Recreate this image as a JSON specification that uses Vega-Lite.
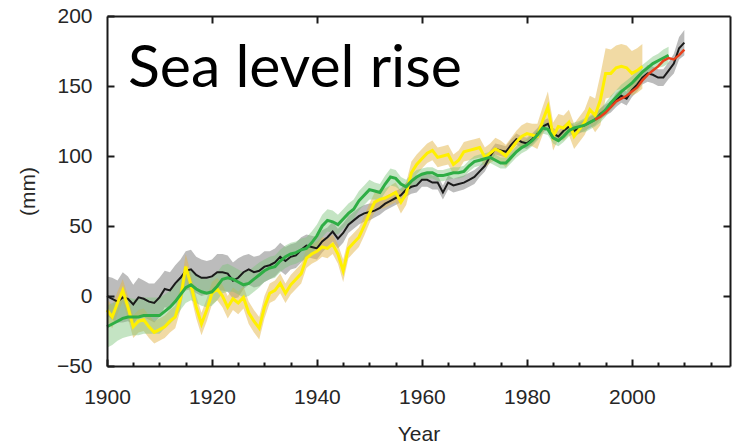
{
"$schema": "https://vega.github.io/schema/vega-lite/v6.json",
"width": 623, "height": 350,
"autosize": "none",
"padding": {"left": 107, "top": 16, "right": 5, "bottom": 78},
"background": "white",
"config": {"view": {"stroke": null}, "font": "Liberation Sans"},
"datasets": {
"black": [
{"year":1900,"v":0,"w":14},{"year":1901,"v":-2,"w":15},{"year":1902,"v":-4,"w":15},{"year":1903,"v":-1,"w":18},{"year":1904,"v":-2,"w":16},{"year":1905,"v":-6,"w":14},{"year":1906,"v":-1,"w":14},{"year":1907,"v":-2,"w":13},{"year":1908,"v":-4,"w":13},{"year":1909,"v":-5,"w":14},
{"year":1910,"v":-1,"w":14},{"year":1911,"v":5,"w":13},{"year":1912,"v":4,"w":13},{"year":1913,"v":9,"w":13},{"year":1914,"v":13,"w":13},{"year":1915,"v":18,"w":14},{"year":1916,"v":19,"w":14},{"year":1917,"v":15,"w":13},{"year":1918,"v":13,"w":13},{"year":1919,"v":13,"w":12},
{"year":1920,"v":14,"w":12},{"year":1921,"v":17,"w":13},{"year":1922,"v":17,"w":13},{"year":1923,"v":16,"w":13},{"year":1924,"v":11,"w":13},{"year":1925,"v":13,"w":14},{"year":1926,"v":17,"w":12},{"year":1927,"v":19,"w":11},{"year":1928,"v":17,"w":11},{"year":1929,"v":18,"w":11},
{"year":1930,"v":21,"w":11},{"year":1931,"v":22,"w":10},{"year":1932,"v":24,"w":10},{"year":1933,"v":28,"w":10},{"year":1934,"v":25,"w":10},{"year":1935,"v":28,"w":9},{"year":1936,"v":29,"w":9},{"year":1937,"v":33,"w":9},{"year":1938,"v":36,"w":8},{"year":1939,"v":35,"w":8},
{"year":1940,"v":34,"w":8},{"year":1941,"v":39,"w":8},{"year":1942,"v":42,"w":7},{"year":1943,"v":46,"w":7},{"year":1944,"v":41,"w":7},{"year":1945,"v":45,"w":7},{"year":1946,"v":51,"w":6},{"year":1947,"v":54,"w":6},{"year":1948,"v":57,"w":6},{"year":1949,"v":59,"w":6},
{"year":1950,"v":60,"w":6},{"year":1951,"v":61,"w":5},{"year":1952,"v":63,"w":5},{"year":1953,"v":66,"w":5},{"year":1954,"v":68,"w":5},{"year":1955,"v":70,"w":5},{"year":1956,"v":72,"w":5},{"year":1957,"v":76,"w":5},{"year":1958,"v":78,"w":5},{"year":1959,"v":79,"w":5},
{"year":1960,"v":83,"w":5},{"year":1961,"v":83,"w":5},{"year":1962,"v":81,"w":5},{"year":1963,"v":81,"w":5},{"year":1964,"v":74,"w":5},{"year":1965,"v":81,"w":5},{"year":1966,"v":79,"w":5},{"year":1967,"v":80,"w":5},{"year":1968,"v":81,"w":5},{"year":1969,"v":83,"w":5},
{"year":1970,"v":85,"w":5},{"year":1971,"v":89,"w":4},{"year":1972,"v":93,"w":4},{"year":1973,"v":100,"w":4},{"year":1974,"v":105,"w":4},{"year":1975,"v":104,"w":4},{"year":1976,"v":103,"w":4},{"year":1977,"v":108,"w":4},{"year":1978,"v":112,"w":4},{"year":1979,"v":110,"w":4},
{"year":1980,"v":109,"w":4},{"year":1981,"v":112,"w":4},{"year":1982,"v":116,"w":4},{"year":1983,"v":121,"w":4},{"year":1984,"v":123,"w":4},{"year":1985,"v":116,"w":4},{"year":1986,"v":114,"w":4},{"year":1987,"v":118,"w":4},{"year":1988,"v":121,"w":4},{"year":1989,"v":118,"w":4},
{"year":1990,"v":120,"w":4},{"year":1991,"v":122,"w":4},{"year":1992,"v":124,"w":4},{"year":1993,"v":126,"w":4},{"year":1994,"v":130,"w":4},{"year":1995,"v":133,"w":4},{"year":1996,"v":135,"w":4},{"year":1997,"v":140,"w":5},{"year":1998,"v":143,"w":5},{"year":1999,"v":141,"w":5},
{"year":2000,"v":147,"w":5},{"year":2001,"v":151,"w":5},{"year":2002,"v":156,"w":5},{"year":2003,"v":159,"w":6},{"year":2004,"v":158,"w":6},{"year":2005,"v":156,"w":6},{"year":2006,"v":156,"w":6},{"year":2007,"v":161,"w":6},{"year":2008,"v":166,"w":7},{"year":2009,"v":177,"w":8},{"year":2010,"v":181,"w":9}
],
"yellow": [
{"year":1900,"v":-10,"w":8},{"year":1901,"v":-15,"w":8},{"year":1902,"v":-5,"w":8},{"year":1903,"v":4,"w":8},{"year":1904,"v":-8,"w":8},{"year":1905,"v":-22,"w":8},{"year":1906,"v":-18,"w":8},{"year":1907,"v":-17,"w":8},{"year":1908,"v":-22,"w":8},{"year":1909,"v":-26,"w":8},
{"year":1910,"v":-24,"w":8},{"year":1911,"v":-22,"w":8},{"year":1912,"v":-18,"w":8},{"year":1913,"v":-15,"w":8},{"year":1914,"v":-2,"w":8},{"year":1915,"v":21,"w":9},{"year":1916,"v":8,"w":8},{"year":1917,"v":-8,"w":8},{"year":1918,"v":-20,"w":8},{"year":1919,"v":-10,"w":8},
{"year":1920,"v":2,"w":8},{"year":1921,"v":5,"w":8},{"year":1922,"v":0,"w":8},{"year":1923,"v":-8,"w":8},{"year":1924,"v":-2,"w":8},{"year":1925,"v":-5,"w":8},{"year":1926,"v":-1,"w":8},{"year":1927,"v":-12,"w":8},{"year":1928,"v":-18,"w":8},{"year":1929,"v":-23,"w":8},
{"year":1930,"v":-8,"w":8},{"year":1931,"v":2,"w":7},{"year":1932,"v":4,"w":7},{"year":1933,"v":9,"w":7},{"year":1934,"v":2,"w":7},{"year":1935,"v":8,"w":7},{"year":1936,"v":12,"w":7},{"year":1937,"v":16,"w":7},{"year":1938,"v":27,"w":7},{"year":1939,"v":30,"w":7},
{"year":1940,"v":32,"w":7},{"year":1941,"v":35,"w":7},{"year":1942,"v":34,"w":7},{"year":1943,"v":37,"w":7},{"year":1944,"v":30,"w":7},{"year":1945,"v":18,"w":8},{"year":1946,"v":34,"w":7},{"year":1947,"v":38,"w":7},{"year":1948,"v":42,"w":7},{"year":1949,"v":50,"w":7},
{"year":1950,"v":59,"w":7},{"year":1951,"v":67,"w":7},{"year":1952,"v":69,"w":7},{"year":1953,"v":70,"w":7},{"year":1954,"v":72,"w":7},{"year":1955,"v":74,"w":7},{"year":1956,"v":67,"w":8},{"year":1957,"v":73,"w":8},{"year":1958,"v":88,"w":8},{"year":1959,"v":94,"w":7},
{"year":1960,"v":98,"w":7},{"year":1961,"v":102,"w":7},{"year":1962,"v":104,"w":7},{"year":1963,"v":99,"w":7},{"year":1964,"v":100,"w":7},{"year":1965,"v":101,"w":7},{"year":1966,"v":94,"w":7},{"year":1967,"v":97,"w":7},{"year":1968,"v":103,"w":7},{"year":1969,"v":104,"w":7},
{"year":1970,"v":105,"w":7},{"year":1971,"v":106,"w":7},{"year":1972,"v":99,"w":7},{"year":1973,"v":102,"w":7},{"year":1974,"v":105,"w":8},{"year":1975,"v":103,"w":8},{"year":1976,"v":100,"w":8},{"year":1977,"v":105,"w":8},{"year":1978,"v":110,"w":8},{"year":1979,"v":114,"w":8},
{"year":1980,"v":116,"w":8},{"year":1981,"v":115,"w":8},{"year":1982,"v":114,"w":9},{"year":1983,"v":125,"w":10},{"year":1984,"v":135,"w":11},{"year":1985,"v":114,"w":10},{"year":1986,"v":121,"w":9},{"year":1987,"v":120,"w":9},{"year":1988,"v":124,"w":9},{"year":1989,"v":114,"w":9},
{"year":1990,"v":119,"w":9},{"year":1991,"v":124,"w":9},{"year":1992,"v":133,"w":10},{"year":1993,"v":129,"w":12},{"year":1994,"v":140,"w":18},{"year":1995,"v":159,"w":18},{"year":1996,"v":159,"w":17},{"year":1997,"v":163,"w":16},{"year":1998,"v":164,"w":16},{"year":1999,"v":163,"w":16},
{"year":2000,"v":159,"w":16},{"year":2001,"v":161,"w":16},{"year":2002,"v":164,"w":16}
],
"green": [
{"year":1900,"v":-22,"w":15},{"year":1901,"v":-20,"w":15},{"year":1902,"v":-18,"w":14},{"year":1903,"v":-16,"w":14},{"year":1904,"v":-15,"w":14},{"year":1905,"v":-15,"w":13},{"year":1906,"v":-15,"w":13},{"year":1907,"v":-14,"w":13},{"year":1908,"v":-14,"w":13},{"year":1909,"v":-14,"w":13},
{"year":1910,"v":-14,"w":13},{"year":1911,"v":-11,"w":12},{"year":1912,"v":-8,"w":12},{"year":1913,"v":-4,"w":12},{"year":1914,"v":1,"w":11},{"year":1915,"v":6,"w":11},{"year":1916,"v":8,"w":11},{"year":1917,"v":5,"w":10},{"year":1918,"v":3,"w":10},{"year":1919,"v":2,"w":10},
{"year":1920,"v":3,"w":10},{"year":1921,"v":7,"w":10},{"year":1922,"v":12,"w":10},{"year":1923,"v":13,"w":10},{"year":1924,"v":12,"w":9},{"year":1925,"v":10,"w":9},{"year":1926,"v":8,"w":9},{"year":1927,"v":9,"w":9},{"year":1928,"v":12,"w":9},{"year":1929,"v":15,"w":9},
{"year":1930,"v":18,"w":8},{"year":1931,"v":20,"w":8},{"year":1932,"v":21,"w":8},{"year":1933,"v":25,"w":8},{"year":1934,"v":28,"w":8},{"year":1935,"v":30,"w":8},{"year":1936,"v":31,"w":8},{"year":1937,"v":33,"w":8},{"year":1938,"v":34,"w":8},{"year":1939,"v":38,"w":8},
{"year":1940,"v":43,"w":8},{"year":1941,"v":50,"w":8},{"year":1942,"v":54,"w":8},{"year":1943,"v":53,"w":8},{"year":1944,"v":51,"w":7},{"year":1945,"v":55,"w":7},{"year":1946,"v":59,"w":7},{"year":1947,"v":62,"w":7},{"year":1948,"v":68,"w":7},{"year":1949,"v":72,"w":7},
{"year":1950,"v":76,"w":7},{"year":1951,"v":75,"w":6},{"year":1952,"v":74,"w":6},{"year":1953,"v":80,"w":6},{"year":1954,"v":85,"w":6},{"year":1955,"v":84,"w":6},{"year":1956,"v":80,"w":5},{"year":1957,"v":78,"w":5},{"year":1958,"v":82,"w":5},{"year":1959,"v":85,"w":5},
{"year":1960,"v":87,"w":4},{"year":1961,"v":88,"w":4},{"year":1962,"v":88,"w":4},{"year":1963,"v":86,"w":4},{"year":1964,"v":86,"w":4},{"year":1965,"v":87,"w":4},{"year":1966,"v":88,"w":4},{"year":1967,"v":88,"w":4},{"year":1968,"v":89,"w":4},{"year":1969,"v":93,"w":4},
{"year":1970,"v":96,"w":4},{"year":1971,"v":97,"w":4},{"year":1972,"v":98,"w":4},{"year":1973,"v":99,"w":4},{"year":1974,"v":97,"w":4},{"year":1975,"v":95,"w":4},{"year":1976,"v":95,"w":4},{"year":1977,"v":99,"w":4},{"year":1978,"v":103,"w":4},{"year":1979,"v":106,"w":4},
{"year":1980,"v":108,"w":4},{"year":1981,"v":111,"w":4},{"year":1982,"v":115,"w":4},{"year":1983,"v":120,"w":4},{"year":1984,"v":119,"w":4},{"year":1985,"v":113,"w":4},{"year":1986,"v":111,"w":4},{"year":1987,"v":114,"w":4},{"year":1988,"v":118,"w":4},{"year":1989,"v":120,"w":4},
{"year":1990,"v":121,"w":4},{"year":1991,"v":122,"w":5},{"year":1992,"v":124,"w":5},{"year":1993,"v":126,"w":5},{"year":1994,"v":129,"w":5},{"year":1995,"v":133,"w":5},{"year":1996,"v":138,"w":5},{"year":1997,"v":142,"w":5},{"year":1998,"v":146,"w":5},{"year":1999,"v":149,"w":5},
{"year":2000,"v":152,"w":5},{"year":2001,"v":156,"w":5},{"year":2002,"v":160,"w":5},{"year":2003,"v":163,"w":5},{"year":2004,"v":166,"w":5},{"year":2005,"v":168,"w":5},{"year":2006,"v":170,"w":6},{"year":2007,"v":172,"w":6}
],
"red": [
{"year":1993,"v":126},{"year":1994,"v":128},{"year":1995,"v":131},{"year":1996,"v":135},{"year":1997,"v":139},{"year":1998,"v":141},{"year":1999,"v":143},{"year":2000,"v":146},{"year":2001,"v":149},{"year":2002,"v":154},
{"year":2003,"v":158},{"year":2004,"v":161},{"year":2005,"v":164},{"year":2006,"v":168},{"year":2007,"v":170},{"year":2008,"v":169},{"year":2009,"v":172},{"year":2010,"v":176}
]
},
"encoding": {
"x": {"field": "year", "type": "quantitative", "scale": {"domain": [1900, 2018.7], "nice": false, "zero": false}, "axis": null},
"y": {"field": "v", "type": "quantitative", "scale": {"domain": [-50, 200], "nice": false, "zero": false}, "axis": null}
},
"layer": [
{"data": {"name": "black"}, "mark": {"type": "errorband", "color": "#8f8f8f", "opacity": 0.6}, "encoding": {"yError": {"field": "w"}}},
{"data": {"name": "yellow"}, "mark": {"type": "errorband", "color": "#e3b54a", "opacity": 0.5}, "encoding": {"yError": {"field": "w"}}},
{"data": {"name": "green"}, "mark": {"type": "errorband", "color": "#7cc47a", "opacity": 0.45}, "encoding": {"yError": {"field": "w"}}},
{"data": {"name": "black"}, "mark": {"type": "line", "color": "#1a1a1a", "strokeWidth": 2},
 "encoding": {
 "x": {"field": "year", "type": "quantitative", "scale": {"domain": [1900, 2018.7], "nice": false, "zero": false},
  "axis": {"orient": "bottom", "title": "Year", "values": [1900,1920,1940,1960,1980,2000],
  "format": "d", "labelFlush": false, "labelOverlap": false, "grid": false,
  "domainColor": "#1a1a1a", "domainWidth": 2, "tickColor": "#1a1a1a", "tickWidth": 2, "tickSize": -7, "labelPadding": 27,
  "labelFont": "Liberation Sans", "labelFontSize": 21, "labelColor": "#262626",
  "titleFont": "Liberation Sans", "titleFontSize": 21, "titleFontWeight": "normal", "titleColor": "#262626", "titlePadding": 16, "zindex": 1}},
 "y": {"field": "v", "type": "quantitative", "scale": {"domain": [-50, 200], "nice": false, "zero": false},
  "axis": {"orient": "left", "title": "(mm)", "values": [-50,0,50,100,150,200], "format": "d", "grid": false,
  "domainColor": "#1a1a1a", "domainWidth": 2, "tickColor": "#1a1a1a", "tickWidth": 2, "tickSize": -7, "labelPadding": 22,
  "labelFont": "Liberation Sans", "labelFontSize": 21, "labelColor": "#262626",
  "titleFont": "Liberation Sans", "titleFontSize": 21, "titleFontWeight": "normal", "titleColor": "#262626", "titlePadding": 18, "zindex": 1}}
 }},
{"data": {"name": "yellow"}, "mark": {"type": "line", "color": "#fff000", "strokeWidth": 3},
 "encoding": {
 "x": {"field": "year", "type": "quantitative", "scale": {"domain": [1900, 2018.7], "nice": false, "zero": false},
  "axis": {"orient": "bottom", "title": null, "values": [1905,1910,1915,1925,1930,1935,1945,1950,1955,1965,1970,1975,1985,1990,1995,2005,2010,2015],
  "labels": false, "domain": false, "grid": false, "tickColor": "#1a1a1a", "tickWidth": 2, "tickSize": -4, "zindex": 1}}
 }},
{"data": {"name": "green"}, "mark": {"type": "line", "color": "#2fae45", "strokeWidth": 3}},
{"data": {"name": "red"}, "mark": {"type": "line", "color": "#e8401c", "strokeWidth": 2.5},
 "encoding": {
 "x": {"field": "year", "type": "quantitative", "scale": {"domain": [1900, 2018.7], "nice": false, "zero": false},
  "axis": {"orient": "top", "title": null, "values": [1920,1940,1960,1980,2000], "labels": false, "grid": false,
  "domainColor": "#1a1a1a", "domainWidth": 2, "tickColor": "#1a1a1a", "tickWidth": 2, "tickSize": -7, "zindex": 1}},
 "y": {"field": "v", "type": "quantitative", "scale": {"domain": [-50, 200], "nice": false, "zero": false},
  "axis": {"orient": "right", "title": null, "values": [0,50,100,150], "labels": false, "grid": false,
  "domainColor": "#1a1a1a", "domainWidth": 2, "tickColor": "#1a1a1a", "tickWidth": 2, "tickSize": -7, "zindex": 1}}
 }},
{"data": {"values": [{"label": "Sea level rise", "year": 1904, "v": 149}]},
 "mark": {"type": "text", "align": "left", "baseline": "alphabetic", "font": "Lato", "fontSize": 59, "color": "#000000"},
 "encoding": {"text": {"field": "label"}}}
],
"resolve": {"axis": {"x": "independent", "y": "independent"}}
}
